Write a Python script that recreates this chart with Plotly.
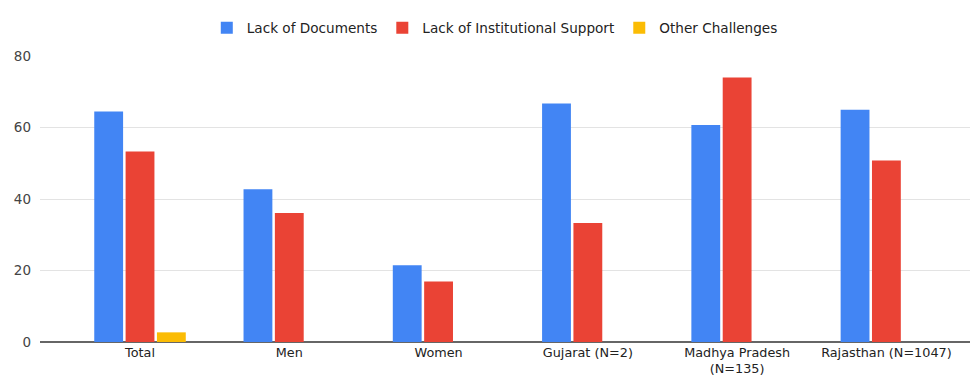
import plotly.graph_objects as go

categories = ["Total", "Men", "Women", "Gujarat (N=2)", "Madhya Pradesh<br>(N=135)", "Rajasthan (N=1047)"]
lack_of_documents = [64.5, 42.7, 21.5, 66.7, 60.7, 65.0]
lack_of_institutional_support = [53.3, 36.1, 16.9, 33.3, 74.0, 50.8]
other_challenges = [2.7, 0, 0, 0, 0, 0]
y_ticks = [0, 20, 40, 60, 80]

series = [
    ("Lack of Documents", lack_of_documents, "#4285F4"),
    ("Lack of Institutional Support", lack_of_institutional_support, "#EA4335"),
    ("Other Challenges", other_challenges, "#FBBC04"),
]

fig = go.Figure()
for name, values, color in series:
    fig.add_trace(go.Bar(x=categories, y=values, name=name, marker_color=color,
                         marker_line_width=0))

fig.update_layout(
    width=974, height=376,
    margin=dict(l=40, r=4, t=56, b=34),
    paper_bgcolor="white", plot_bgcolor="white",
    barmode="group", bargap=0.37, bargroupgap=0.08,
    font=dict(family="DejaVu Sans, sans-serif", size=13.5, color="#444"),
    legend=dict(orientation="h", x=0.508, xanchor="center", xref="container",
                y=0.926, yanchor="middle", yref="container",
                font=dict(size=13.6, color="#222"),
                itemwidth=30, traceorder="normal"),
    showlegend=True,
)
fig.update_xaxes(range=[-0.67, 5.56], showgrid=False, showline=False, ticks="",
                 ticklabelstandoff=1, automargin=False,
                 tickfont=dict(size=12.8, color="#222"))
fig.update_yaxes(range=[0, 80], tickvals=y_ticks, showgrid=True, gridcolor="#e3e3e3",
                 gridwidth=1, zeroline=True, zerolinecolor="#666", zerolinewidth=1.5,
                 showline=False, ticks="", ticklabelstandoff=8, automargin=False,
                 tickfont=dict(size=13.5, color="#444"))

fig.write_html("out.html")
